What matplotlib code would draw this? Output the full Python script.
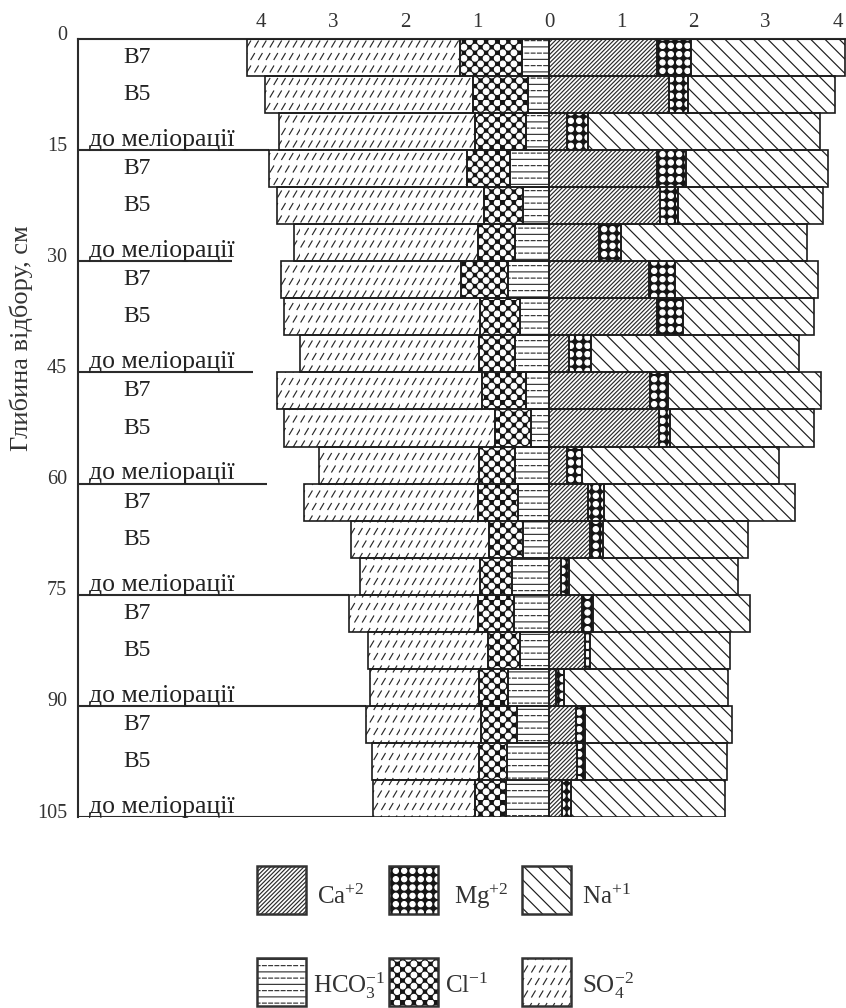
import warnings
import numpy as np
import matplotlib
matplotlib.use('Agg')
import matplotlib.pyplot as plt
from matplotlib import hatch as mhatch
from matplotlib.path import Path
from matplotlib.patches import Rectangle

warnings.filterwarnings('ignore')

# ---- data (meq / 100 g soil), rows from the surface down, 5 cm each ----
layer_tops = [0, 15, 30, 45, 60, 75, 90]
variants = ['B7', 'B5', 'до меліорації']
depth_ticks = [0, 15, 30, 45, 60, 75, 90, 105]
conc_ticks = [-4, -3, -2, -1, 0, 1, 2, 3, 4]

# anions (left side, from zero outwards)
hco3 = [0.38, 0.30, 0.32, 0.54, 0.37, 0.47, 0.57, 0.40, 0.47, 0.32, 0.25,
        0.47, 0.43, 0.37, 0.51, 0.49, 0.40, 0.57, 0.45, 0.58, 0.60]
cl = [0.86, 0.76, 0.71, 0.60, 0.54, 0.52, 0.65, 0.56, 0.50, 0.61, 0.50,
      0.50, 0.56, 0.47, 0.45, 0.50, 0.45, 0.40, 0.49, 0.39, 0.43]
so4 = [2.95, 2.88, 2.72, 2.74, 2.87, 2.55, 2.50, 2.72, 2.49, 2.85, 2.93,
       2.22, 2.41, 1.91, 1.67, 1.79, 1.67, 1.52, 1.60, 1.49, 1.42]
# cations (right side)
ca = [1.49, 1.66, 0.24, 1.49, 1.54, 0.69, 1.38, 1.49, 0.28, 1.40, 1.52,
      0.24, 0.54, 0.57, 0.16, 0.46, 0.50, 0.09, 0.37, 0.39, 0.18]
mg = [0.48, 0.26, 0.30, 0.40, 0.25, 0.30, 0.37, 0.37, 0.30, 0.24, 0.15,
      0.21, 0.22, 0.17, 0.11, 0.15, 0.07, 0.11, 0.13, 0.11, 0.12]
na = [2.13, 2.04, 3.21, 1.98, 2.01, 2.59, 1.98, 1.81, 2.89, 2.13, 2.00,
      2.74, 2.65, 2.01, 2.35, 2.18, 1.94, 2.28, 2.04, 1.96, 2.14]


# ---- custom fill patterns (old-style print hatches) ----
class SlashDashHatch(mhatch.HatchPatternBase):
    """rows of short '/' strokes (SO4)"""
    def __init__(self, hatch, density):
        k = hatch.count('z')
        self.cols = 13 * k
        self.rows = 8 * k
        self.num_vertices = self.cols * self.rows * 2

    def set_vertices_and_codes(self, vertices, codes):
        cw, rh = 1.0 / self.cols, 1.0 / self.rows
        cx, ry = np.meshgrid(np.arange(self.cols) * cw, np.arange(self.rows) * rh)
        cx = cx + (np.arange(self.rows)[:, None] % 2) * cw / 2
        cx, ry = cx.ravel(), ry.ravel()
        vertices[0::2, 0] = cx + 0.12 * cw
        vertices[0::2, 1] = ry + 0.24 * rh
        vertices[1::2, 0] = cx + 0.58 * cw
        vertices[1::2, 1] = ry + 0.72 * rh
        codes[0::2] = Path.MOVETO
        codes[1::2] = Path.LINETO


class DotHatch(mhatch.HatchPatternBase):
    """filled dots, square grid ('m') or diamond grid ('c')"""
    def __init__(self, hatch, density):
        self.square = hatch.count('m')
        self.diamond = hatch.count('c')
        circ = Path.unit_circle()
        self.cv, self.cc = circ.vertices, circ.codes
        if self.square:
            self.nx, self.ny, self.r = 12, 12, 0.31
        else:
            self.nx, self.ny, self.r = 9, 18, 0.28
        self.n = self.nx * self.ny if (self.square or self.diamond) else 0
        self.num_vertices = self.n * len(self.cv)

    def set_vertices_and_codes(self, vertices, codes):
        sx = 1.0 / self.nx
        sy = 1.0 / self.ny
        i, j = np.meshgrid(np.arange(self.ny), np.arange(self.nx), indexing='ij')
        if self.square:
            xc = (j + 0.5) * sx
        else:
            xc = (j + 0.25 + 0.5 * (i % 2)) * sx
        yc = (i + 0.5) * sy
        rad = self.r * sx if self.square else self.r * sx * 0.9
        m = len(self.cv)
        for k, (x, y) in enumerate(zip(xc.ravel(), yc.ravel())):
            vertices[k * m:(k + 1) * m] = self.cv * rad + (x, y)
            codes[k * m:(k + 1) * m] = self.cc


class LineDashHatch(mhatch.HatchPatternBase):
    """horizontal lines, every second one dashed (HCO3)"""
    def __init__(self, hatch, density):
        self.k = hatch.count('h')
        self.rows = 16 * self.k
        self.dashes = 16
        half = self.rows // 2
        self.num_vertices = half * 2 + half * self.dashes * 2 if self.k else 0

    def set_vertices_and_codes(self, vertices, codes):
        step = 1.0 / self.rows
        p = 0
        for r in range(self.rows):
            y = (r + 0.5) * step
            if r % 2 == 0:
                vertices[p] = (0, y)
                vertices[p + 1] = (1, y)
                codes[p], codes[p + 1] = Path.MOVETO, Path.LINETO
                p += 2
            else:
                for d in range(self.dashes):
                    x0 = d / self.dashes
                    vertices[p] = (x0, y)
                    vertices[p + 1] = (x0 + 0.6 / self.dashes, y)
                    codes[p], codes[p + 1] = Path.MOVETO, Path.LINETO
                    p += 2


class BackslashHatch(mhatch.HatchPatternBase):
    """'\\' lines, about 14 px apart (Na)"""
    def __init__(self, hatch, density):
        self.num_lines = 14 * hatch.count('n')
        self.num_vertices = (self.num_lines + 1) * 2 if self.num_lines else 0

    def set_vertices_and_codes(self, vertices, codes):
        steps = np.linspace(-0.5, 0.5, self.num_lines + 1)
        vertices[0::2, 0] = 0.0 + steps
        vertices[0::2, 1] = 1.0 + steps
        vertices[1::2, 0] = 1.0 + steps
        vertices[1::2, 1] = 0.0 + steps
        codes[0::2] = Path.MOVETO
        codes[1::2] = Path.LINETO


mhatch._hatch_types.extend([SlashDashHatch, DotHatch, LineDashHatch,
                            BackslashHatch])

plt.rcParams['font.family'] = ['Liberation Serif', 'DejaVu Serif']
plt.rcParams['mathtext.fontset'] = 'custom'
plt.rcParams['mathtext.rm'] = 'Liberation Serif'
plt.rcParams['mathtext.default'] = 'rm'
plt.rcParams['hatch.linewidth'] = 0.85

INK = '#1c1c1c'
STYLE = {
    'HCO3': dict(face='white', hatch='h', hcolor='#333333'),
    'Cl': dict(face='#151515', hatch='c', hcolor='white'),
    'SO4': dict(face='white', hatch='z', hcolor='#2a2a2a'),
    'Ca': dict(face='white', hatch='////////', hcolor='#2a2a2a'),
    'Mg': dict(face='#151515', hatch='m', hcolor='white'),
    'Na': dict(face='white', hatch='n', hcolor=INK),
}


def hatched_barh(ax, y, width, left, key):
    st = STYLE[key]
    ax.barh(y, width, left=left, height=5, color=st['face'],
            edgecolor=st['hcolor'], hatch=st['hatch'], linewidth=0, zorder=2)
    ax.barh(y, width, left=left, height=5, fill=False,
            edgecolor=INK, linewidth=1.2, zorder=3)


fig = plt.figure(figsize=(8.46, 10.08), dpi=100)
W, H = 846.0, 1008.0
ax = fig.add_axes([78 / W, 1 - 817 / H, (W - 78) / W, (817 - 39) / H])

XMIN, XMAX = -6.535, 4.115
ax.set_xlim(XMIN, XMAX)
ax.set_ylim(105, 0)

n = len(hco3)
row_top = np.repeat(layer_tops, len(variants)) + np.tile([0, 5, 10], len(layer_tops))
yc = row_top + 2.5

a1 = np.array(hco3)
a2 = np.array(cl)
a3 = np.array(so4)
c1 = np.array(ca)
c2 = np.array(mg)
c3 = np.array(na)

hatched_barh(ax, yc, -a1, 0, 'HCO3')
hatched_barh(ax, yc, -a2, -a1, 'Cl')
hatched_barh(ax, yc, -a3, -(a1 + a2), 'SO4')
hatched_barh(ax, yc, c1, 0, 'Ca')
hatched_barh(ax, yc, c2, c1, 'Mg')
hatched_barh(ax, yc, c3, c1 + c2, 'Na')

# layer separators (some stop short of the bars, as in the original)
left_tot = a1 + a2 + a3
rule_stop = {30: -4.40, 45: -4.11, 60: -3.92}
for d in depth_ticks[1:]:
    k = d // 5
    if d in rule_stop:
        end = rule_stop[d]
    else:
        near = [left_tot[i] for i in (k - 1, k) if 0 <= i < n]
        end = -max(near)
    ax.plot([XMIN, end], [d, d], color='#2b2b2b', lw=1.5, zorder=1,
            solid_capstyle='butt')

# sample labels
for i in range(n):
    name = variants[i % 3]
    if name.startswith('B'):
        ax.text(-5.91, yc[i], name, fontsize=17, ha='left', va='center',
                color='#222222', zorder=4)
    else:
        ax.text(-6.385, row_top[i] + 5 - 0.55, name, fontsize=18.5,
                ha='left', va='baseline', color='#222222', zorder=4)

# axes decoration
for s in ['right', 'bottom']:
    ax.spines[s].set_visible(False)
for s in ['left', 'top']:
    ax.spines[s].set_color('#2b2b2b')
    ax.spines[s].set_linewidth(1.5)

ax.xaxis.tick_top()
ax.set_xticks(conc_ticks)
ax.set_xticklabels([str(abs(t)) for t in conc_ticks], fontsize=15,
                   color='#333333')
ax.tick_params(axis='x', direction='in', length=4, width=1.2, pad=5,
               color='#333333')
ax.set_yticks([])
for d in depth_ticks:
    ax.annotate(str(d), xy=(0, d), xycoords=('axes fraction', 'data'),
                xytext=(-11, 4), textcoords='offset pixels',
                ha='right', va='center', fontsize=14.5, color='#333333')

fig.text(21 / W, 1 - 338 / H, 'Глибина відбору, см', rotation=90,
         ha='center', va='center', fontsize=19, color='#333333')

# legend
legend_items = [
    ('Ca', r'$\mathrm{Ca^{+2}}$', 257, 866, 317, 904),
    ('Mg', r'$\mathrm{Mg^{+2}}$', 389, 866, 454, 904),
    ('Na', r'$\mathrm{Na^{+1}}$', 522, 866, 582, 904),
    ('HCO3', r'$\mathrm{HCO_3^{-1}}$', 257, 958, 313, 993),
    ('Cl', r'$\mathrm{Cl^{-1}}$', 389, 958, 445, 993),
    ('SO4', r'$\mathrm{SO_4^{-2}}$', 522, 958, 582, 993),
]
bw, bh = 49, 48
for key, lab, bx, by, tx, ty in legend_items:
    st = STYLE[key]
    rect = Rectangle((bx / W, 1 - (by + bh) / H), bw / W, bh / H,
                     transform=fig.transFigure, facecolor=st['face'],
                     edgecolor=st['hcolor'], hatch=st['hatch'], linewidth=0)
    fig.add_artist(rect)
    frame = Rectangle((bx / W, 1 - (by + bh) / H), bw / W, bh / H,
                      transform=fig.transFigure, fill=False,
                      edgecolor='#333333', linewidth=1.8)
    fig.add_artist(frame)
    fig.text(tx / W, 1 - ty / H, lab, fontsize=18, ha='left', va='baseline',
             color='#333333')

fig.savefig('out.png', dpi=100, facecolor='white')
